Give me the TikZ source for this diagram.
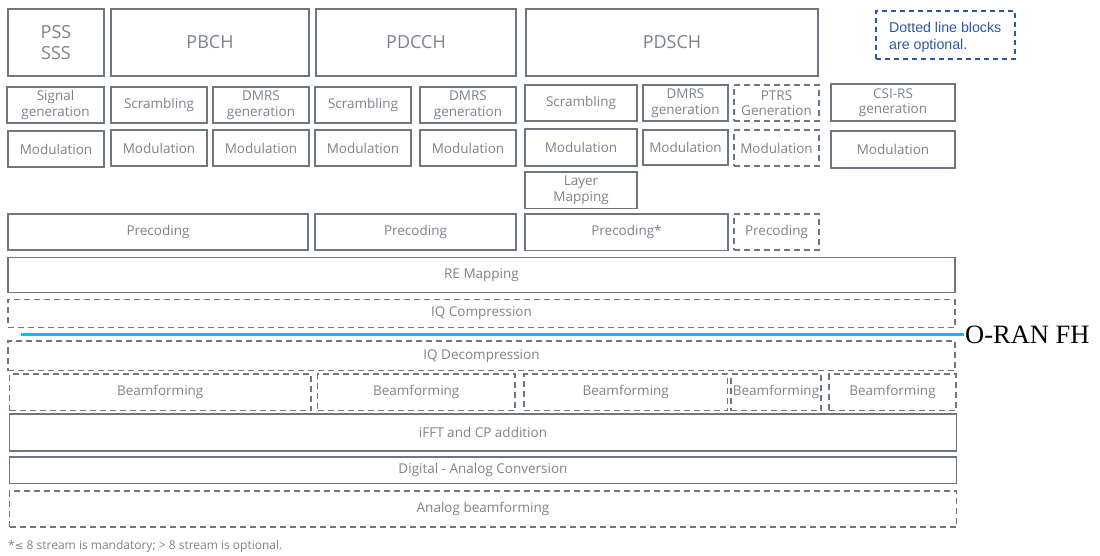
\documentclass[tikz,border=0pt]{standalone}
\usepackage{fontspec}
\setmainfont{Open Sans}
\newfontfamily\legendfont{Liberation Sans}
\newfontfamily\serifnote{Liberation Serif}
\newfontfamily\dvsym{DejaVu Sans}
\usetikzlibrary{decorations.pathmorphing}

\definecolor{edgegray}{HTML}{6E767F}
\definecolor{textgray}{HTML}{7C838B}
\definecolor{legendblue}{HTML}{2F56A6}
\definecolor{fhcyan}{HTML}{12B8F0}

\tikzset{
  blockbox/.style={draw=edgegray, line width=1.3pt, text=textgray, inner sep=0pt,
    align=center, font=\fontsize{13.5}{15.5}\selectfont},
  chanbox/.style={blockbox, font=\fontsize{18}{21.5}\selectfont},
  optbox/.style={blockbox, dash pattern=on 6pt off 4pt},
  legendbox/.style={draw=legendblue, line width=1.3pt, dash pattern=on 5pt off 4pt},
  legendtext/.style={text=legendblue, align=left, inner sep=0pt,
    font=\legendfont\fontsize{14.2}{17}\selectfont},
  fhline/.style={draw=fhcyan, line width=2.4pt},
  fhlabel/.style={font=\serifnote\fontsize{26.5}{30}\selectfont, inner sep=1pt},
  footnotetext/.style={text=textgray, inner sep=0pt, font=\fontsize{12}{14}\selectfont},
  spellmark/.style={draw=red!85!black, line width=0.5pt, decorate,
    decoration={snake, amplitude=0.7pt, segment length=2.4pt}}
}

% \blk{name}{x1}{y1}{x2}{y2}{style}{text}: a block between two corners
\newcommand{\blk}[7]{%
  \node[#6, minimum width={#4-#2}, minimum height={#5-#3}]
    (#1) at ({(#2+#4)/2},{(#3+#5)/2}) {#7};}

\newlength{\ifftwidth}

\begin{document}
\begin{tikzpicture}[x=1pt, y=-1pt]
\useasboundingbox (0,0) rectangle (1100,556);

% channel headers
\blk{pss}{8}{9}{104}{76}{chanbox}{PSS\\SSS}
\blk{pbch}{111}{9}{309}{76}{chanbox}{PBCH}
\blk{pdcch}{316}{9}{516}{76}{chanbox}{PDCCH}
\blk{pdsch}{526}{9}{818}{76}{chanbox}{PDSCH}

% legend
\node[legendbox, minimum width=139, minimum height=48, inner sep=0pt]
  (legend) at (945.5,35) {};
\node[legendtext, anchor=west] (legendtxt) at (889,37)
  {Dotted line blocks\\are optional.};

% sequence generation / scrambling
\blk{siggen}{7}{87}{104}{123}{blockbox}{Signal\\generation}
\blk{scrpbch}{111}{87}{207}{123}{blockbox}{Scrambling}
\blk{dmrspbch}{213}{87}{309}{123}{blockbox}{DMRS\\generation}
\blk{scrpdcch}{315}{87}{411}{123}{blockbox}{Scrambling}
\blk{dmrspdcch}{420}{87}{516}{123}{blockbox}{DMRS\\generation}
\blk{scrpdsch}{525}{85}{637}{121}{blockbox}{Scrambling}
\blk{dmrspdsch}{643}{85}{728}{121}{blockbox}{DMRS\\generation}
\blk{ptrs}{734}{85}{819}{121}{optbox}{PTRS\\Generation}
\blk{csirs}{831}{84}{955}{121}{blockbox}{CSI-RS\\generation}

% modulation
\blk{modpss}{8}{131}{104}{167}{blockbox}{Modulation}
\blk{modpbch}{111}{130}{207}{166}{blockbox}{Modulation}
\blk{moddmrspbch}{213}{130}{309}{166}{blockbox}{Modulation}
\blk{modpdcch}{315}{130}{411}{166}{blockbox}{Modulation}
\blk{moddmrspdcch}{420}{130}{516}{166}{blockbox}{Modulation}
\blk{modpdsch}{525}{129}{637}{166}{blockbox}{Modulation}
\blk{moddmrspdsch}{643}{130}{728}{165}{blockbox}{Modulation}
\blk{modptrs}{734}{130}{819}{166}{optbox}{Modulation}
\blk{modcsirs}{831}{131}{955}{168}{blockbox}{Modulation}

% layer mapping and precoding
\blk{layermap}{525}{172}{637}{208.5}{blockbox}{Layer\\Mapping}
\blk{precpbch}{8}{214}{308}{250}{blockbox}{Precoding}
\blk{precpdcch}{315}{214}{516}{250}{blockbox}{Precoding}
\blk{precpdsch}{525}{214}{728}{250.5}{blockbox}{Precoding*}
\blk{precptrs}{734}{214}{819}{250}{optbox}{Precoding}

% resource mapping and fronthaul compression
\blk{remap}{8}{257.5}{955}{292.5}{blockbox}{RE Mapping}
\blk{iqcomp}{8}{299.5}{955}{327.5}{optbox}{IQ Compression}
\blk{iqdecomp}{8}{341}{955}{370.5}{optbox}{IQ Decompression}

% fronthaul split
\node[fhlabel, anchor=west] (fh) at (964,334.5) {O-RAN FH};
\coordinate (fhstart) at (20.5,334.5);
\draw[fhline] (fhstart) -- (fh.west);

% digital beamforming
\blk{bf1}{9.5}{374}{311}{410.5}{optbox}{Beamforming}
\blk{bf2}{317.5}{374}{515}{410.5}{optbox}{Beamforming}
\blk{bf3}{524}{374}{727.5}{410.5}{optbox}{Beamforming}
\blk{bf4}{731}{374}{821}{410.5}{optbox}{Beamforming}
\blk{bf5}{829}{374}{956}{410.5}{optbox}{Beamforming}

% time domain and radio
\blk{ifft}{9.5}{414}{956.5}{451}{blockbox}{}
\node[text=textgray, inner sep=0pt, font=\fontsize{13.5}{15.5}\selectfont]
  (iffttxt) at (ifft.center) {iFFT and CP addition};
\settowidth{\ifftwidth}{\fontsize{13.5}{15.5}\selectfont iFFT}
\draw[spellmark] ([yshift=-2.6pt]iffttxt.base west) -- ++(\ifftwidth,0);
\blk{dac}{9.5}{457}{956.5}{483.5}{blockbox}{Digital - Analog Conversion}
\blk{analogbf}{9.5}{491}{956.5}{527}{optbox}{Analog beamforming}

% footnote
\node[footnotetext, anchor=west] (note) at (8,546.5)
  {*{\dvsym\fontsize{10.5}{14}\selectfont ≤} 8 stream is mandatory; > 8 stream is optional.};
\end{tikzpicture}
\end{document}
